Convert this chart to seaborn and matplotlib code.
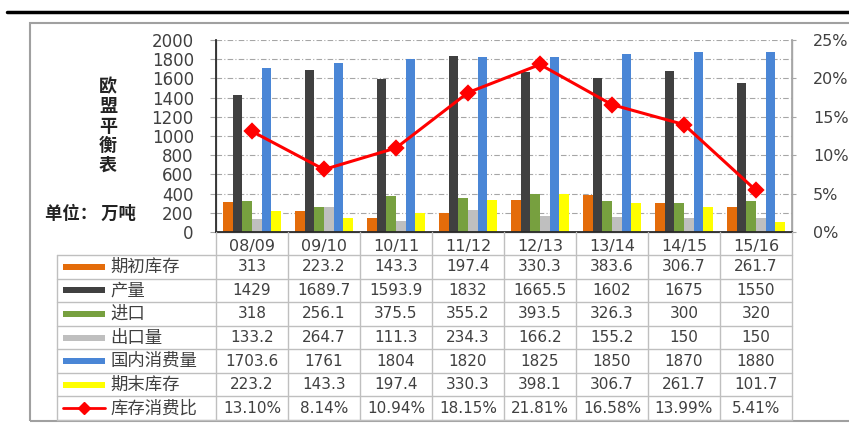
import numpy as np
import pandas as pd
import seaborn as sns
import matplotlib.pyplot as plt
from matplotlib.lines import Line2D
from matplotlib.patches import Rectangle

seasons = ['08/09', '09/10', '10/11', '11/12', '12/13', '13/14', '14/15', '15/16']
series_names = ['期初库存', '产量', '进口', '出口量', '国内消费量', '期末库存']
opening_stock = [313, 223.2, 143.3, 197.4, 330.3, 383.6, 306.7, 261.7]
production = [1429, 1689.7, 1593.9, 1832, 1665.5, 1602, 1675, 1550]
imports = [318, 256.1, 375.5, 355.2, 393.5, 326.3, 300, 320]
exports = [133.2, 264.7, 111.3, 234.3, 166.2, 155.2, 150, 150]
consumption = [1703.6, 1761, 1804, 1820, 1825, 1850, 1870, 1880]
ending_stock = [223.2, 143.3, 197.4, 330.3, 398.1, 306.7, 261.7, 101.7]
ratio_name = '库存消费比'
stock_ratio = [13.10, 8.14, 10.94, 18.15, 21.81, 16.58, 13.99, 5.41]

colors = ['#E46C0A', '#404040', '#77A03F', '#BFBFBF', '#4A86D6', '#FFFF00']
red = '#FF0000'
txt = '#404040'
cjk = ['Noto Sans CJK SC', 'DejaVu Sans']

series_values = [opening_stock, production, imports, exports, consumption, ending_stock]
df = pd.DataFrame({
    'season': seasons * len(series_names),
    'series': [n for n in series_names for _ in seasons],
    'value': [v for vals in series_values for v in vals],
})

sns.set_theme(style='white')
plt.rcParams['font.family'] = ['DejaVu Sans', 'Noto Sans CJK SC']

W, H = 849, 428
fig = plt.figure(figsize=(W / 100, H / 100), dpi=100)

def fx(x):
    return x / W

def fy(y):
    return 1 - y / H

# plot area in pixel coords of the reference
left, right, top, bottom = 216, 792, 40, 232
ax = fig.add_axes([fx(left), fy(bottom), (right - left) / W, (bottom - top) / H])

sns.barplot(data=df, x='season', y='value', hue='series', hue_order=series_names,
            palette=colors, saturation=1, width=0.8, ax=ax, legend=False,
            edgecolor='none', zorder=2)
ax.set_xlim(-0.5, 7.5)
ax.set_ylim(0, 2000)
ax.set_yticks(range(0, 2001, 200))
ax.yaxis.grid(True, color='#A6A6A6', linestyle=(0, (5, 2, 1, 2)), linewidth=0.8)
ax.set_axisbelow(True)
ax.set(xlabel='', ylabel='')
ax.tick_params(axis='y', left=True, length=4, width=0.8, color='#A6A6A6', pad=12,
               labelsize=12, labelcolor=txt)
ax.tick_params(axis='x', length=0, pad=5, labelsize=11.5, labelcolor=txt)
for s in ['left', 'right', 'bottom']:
    ax.spines[s].set_color('#A6A6A6')
    ax.spines[s].set_linewidth(1)
ax.spines['top'].set_visible(False)

ax2 = ax.twinx()
sns.pointplot(x=seasons, y=stock_ratio, ax=ax2, color=red, markers='D',
              markersize=7, linewidth=2.2)
ax2.set_xlim(-0.5, 7.5)
ax2.set_ylim(0, 25)
ax2.set_yticks(range(0, 26, 5))
ax2.set_yticklabels([f'{v}%' for v in range(0, 26, 5)])
ax2.set(xlabel='', ylabel='')
ax2.tick_params(axis='y', right=True, length=3, width=0.8, color='#A6A6A6', pad=12,
                labelsize=11.5, labelcolor=txt)
ax2.spines['top'].set_visible(False)
ax2.spines['right'].set_color('#A6A6A6')
ax2.grid(False)

# outer decorations
fig.add_artist(Line2D([fx(7), fx(849)], [fy(12), fy(12)], color='black', lw=2.5))
fig.add_artist(Rectangle((fx(30), fy(421)), fx(830), (421 - 23) / H,
                         fill=False, edgecolor='#A0A0A0', lw=1.5))
fig.text(fx(108), fy(126), '欧\n盟\n平\n衡\n表', ha='center', va='center',
         fontsize=13, fontweight='bold', family=cjk, color='#222222', linespacing=1.05)
fig.text(fx(45), fy(214), '单位： 万吨', ha='left', va='center', fontsize=12.5,
         fontweight='bold', family=cjk, color='#222222')

# data table under the chart
grid = '#BFBFBF'
tab_left = 57
row_edges = np.linspace(255, 420, 8)
col_w = (right - left) / len(seasons)
for y in row_edges:
    fig.add_artist(Line2D([fx(tab_left), fx(right)], [fy(y), fy(y)], color=grid, lw=1))
fig.add_artist(Line2D([fx(tab_left), fx(tab_left)], [fy(255), fy(420)], color=grid, lw=1))
for k in range(len(seasons) + 1):
    x = left + k * col_w
    fig.add_artist(Line2D([fx(x), fx(x)], [fy(bottom), fy(420)], color=grid, lw=1))

def fmt(v):
    return f'{v:g}'

row_labels = series_names + [ratio_name]
row_texts = [[fmt(v) for v in vals] for vals in series_values] + \
            [[f'{v:.2f}%' for v in stock_ratio]]
for r, (label, vals) in enumerate(zip(row_labels, row_texts)):
    yc = (row_edges[r] + row_edges[r + 1]) / 2
    if r < len(colors):
        fig.add_artist(Rectangle((fx(63), fy(yc + 3)), fx(42), 6 / H,
                                 facecolor=colors[r], edgecolor='none'))
    else:
        fig.add_artist(Line2D([fx(63), fx(105)], [fy(yc), fy(yc)], color=red, lw=2))
        fig.add_artist(Line2D([fx(84)], [fy(yc)], color=red, marker='D', markersize=6,
                              linestyle='none'))
    fig.text(fx(110), fy(yc), label, ha='left', va='center', fontsize=12.5,
             family=cjk, color=txt)
    for c, t in enumerate(vals):
        fig.text(fx(left + (c + 0.5) * col_w), fy(yc), t, ha='center', va='center',
                 fontsize=11, color=txt)

fig.savefig('out.png', dpi=100)
